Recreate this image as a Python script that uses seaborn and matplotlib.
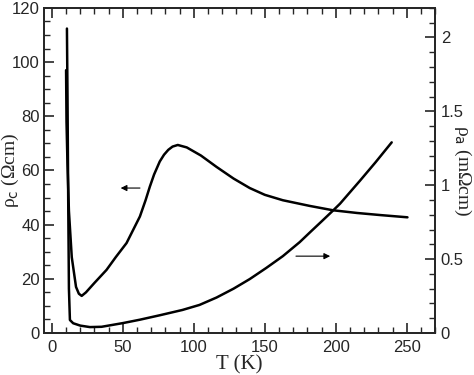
import matplotlib
matplotlib.use("Agg")
import matplotlib.pyplot as plt
import seaborn as sns
import pandas as pd
from matplotlib.ticker import MultipleLocator

# ===== DATA =====
T_c = [10, 10.3, 11, 12, 14, 17, 19, 21, 24, 30, 38.5, 45, 52.6, 62, 66, 69, 72, 76,
       79, 82, 85, 88.7, 95, 105, 116, 128, 139.4, 150, 162.7, 181.7, 198, 215, 232, 250.5]
rho_c = [97, 78, 62, 45, 28, 17, 14.5, 13.7, 15, 18.5, 23.3, 28, 33.2, 43, 49, 54, 58.5, 63.3,
         65.8, 67.6, 68.8, 69.4, 68.5, 65.5, 61.3, 57, 53.5, 51, 49, 46.9, 45.3, 44.3, 43.5, 42.7]

T_a = [10.6, 11, 11.5, 12, 12.7, 15, 20, 26.8, 35, 50, 62, 76, 92, 104, 116, 128,
       139.4, 151, 162.7, 174.6, 181.7, 190, 198, 203, 217, 228, 239.4]
rho_a = [2.06, 1.6, 0.9, 0.3, 0.088, 0.066, 0.05, 0.04, 0.042, 0.067, 0.09, 0.12,
         0.156, 0.19, 0.24, 0.30, 0.365, 0.44, 0.52, 0.615, 0.68, 0.755, 0.828, 0.875,
         1.03, 1.155, 1.29]

df_c = pd.DataFrame({"T": T_c, "rho": rho_c})
df_a = pd.DataFrame({"T": T_a, "rho": rho_a})

# ===== STYLE =====
sns.set_style("ticks")
plt.rcParams["font.family"] = ["Liberation Sans", "DejaVu Sans"]
plt.rcParams["axes.linewidth"] = 1.3

fig = plt.figure(figsize=(4.74, 3.75), dpi=100)
ax = fig.add_axes([0.093, 0.112, 0.825, 0.867])
ax2 = ax.twinx()

sns.lineplot(data=df_c, x="T", y="rho", sort=False, color="black", lw=1.8, ax=ax)
sns.lineplot(data=df_a, x="T", y="rho", sort=False, color="black", lw=1.8, ax=ax2)

ax.set_xlim(-5.5, 270)
ax.set_ylim(0, 120)
ax2.set_ylim(0, 2.2)

ax.xaxis.set_major_locator(MultipleLocator(50))
ax.xaxis.set_minor_locator(MultipleLocator(10))
ax.yaxis.set_major_locator(MultipleLocator(20))
ax.yaxis.set_minor_locator(MultipleLocator(5))
ax2.set_yticks([0, 0.5, 1, 1.5, 2])
ax2.set_yticklabels(["0", "0.5", "1", "1.5", "2"])
ax2.yaxis.set_minor_locator(MultipleLocator(0.1))

ax.tick_params(axis="x", which="both", direction="in", top=True, labelsize=12, pad=5)
ax.tick_params(axis="y", which="both", direction="in", right=False, labelsize=12, pad=3)
ax.tick_params(which="major", length=7, width=1.2)
ax.tick_params(which="minor", length=4, width=1.0)
ax2.tick_params(axis="y", which="both", direction="in", labelsize=12, pad=4)
ax2.tick_params(which="major", length=7, width=1.2)
ax2.tick_params(which="minor", length=4, width=1.0)

serif = ["Liberation Serif", "DejaVu Serif"]
ax.set_xlabel("T (K)", family=serif, fontsize=15, labelpad=0)
ax.set_ylabel("ρ$_\\mathrm{c}$ (Ωcm)", family=serif, fontsize=14, va="center")
ax.yaxis.set_label_coords(-0.086, 0.5)
ax2.set_ylabel("ρ$_\\mathrm{a}$ (mΩcm)", family=serif, fontsize=14, rotation=270,
               va="center")
ax2.yaxis.set_label_coords(1.07, 0.5)

# arrows pointing to each curve's axis
ax.annotate("", xy=(46.5, 53.5), xytext=(64, 53.5),
            arrowprops=dict(arrowstyle="-|>", color="black", lw=0.8,
                            mutation_scale=9))
ax2.annotate("", xy=(198, 0.52), xytext=(170, 0.52),
             arrowprops=dict(arrowstyle="-|>", color="black", lw=0.8,
                             mutation_scale=9))

fig.savefig("out.png", dpi=100)
